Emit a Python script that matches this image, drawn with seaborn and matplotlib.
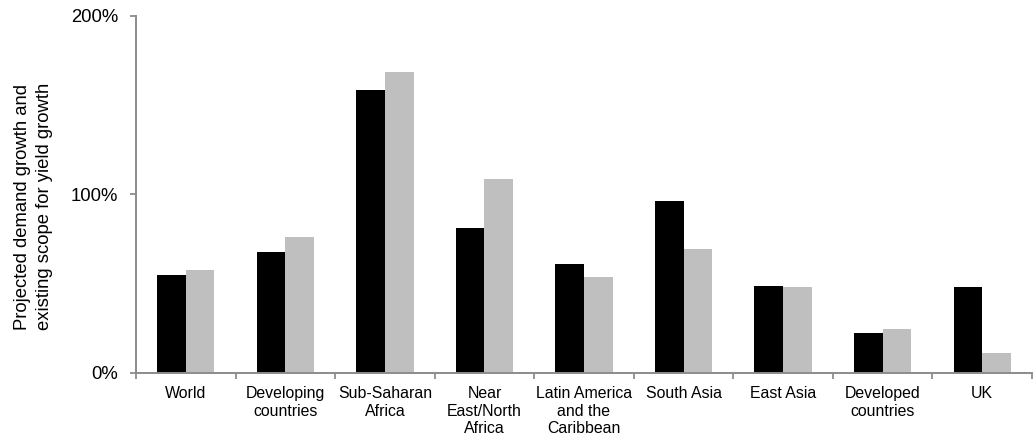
"""Projected demand growth vs existing scope for yield growth"""

import numpy as np
import pandas as pd
import matplotlib

matplotlib.use("Agg")
import matplotlib.pyplot as plt
import seaborn as sns
from matplotlib.ticker import FixedLocator, PercentFormatter

regions = [
    "World",
    "Developing\ncountries",
    "Sub-Saharan\nAfrica",
    "Near\nEast/North\nAfrica",
    "Latin America\nand the\nCaribbean",
    "South Asia",
    "East Asia",
    "Developed\ncountries",
    "UK",
]
demand_growth = [54.6, 67.3, 158.3, 81.1, 61.1, 96.1, 48.6, 22.0, 47.7]
yield_scope = [57.2, 75.7, 168.4, 108.4, 53.4, 69.5, 47.7, 24.3, 11.0]
series_names = ["Projected demand growth", "Existing scope for yield growth"]

df = pd.DataFrame({
    "region": regions * 2,
    "value": demand_growth + yield_scope,
    "series": [series_names[0]] * len(regions) + [series_names[1]] * len(regions),
})

sns.set_style("white")
plt.rcParams["font.family"] = ["Liberation Sans", "DejaVu Sans"]
plt.rcParams["text.color"] = "black"
plt.rcParams["xtick.color"] = "black"
plt.rcParams["ytick.color"] = "black"
plt.rcParams["axes.labelcolor"] = "black"

fig = plt.figure(figsize=(10.35, 4.41), dpi=100)
ax = fig.add_axes([0.1314, 0.1553, 0.8657, 0.8091])

sns.barplot(
    data=df, x="region", y="value", hue="series",
    palette=["#000000", "#BFBFBF"], saturation=1,
    width=0.576, gap=0, legend=False, linewidth=0, ax=ax,
)

axis_grey = "#8C8C8C"
ax.set_xlim(-0.5, len(regions) - 0.5)
ax.set_ylim(0, 200)
ax.set_yticks([0, 100, 200])
ax.yaxis.set_major_formatter(PercentFormatter(decimals=0))
ax.tick_params(axis="y", left=True, labelsize=13.3, length=4, width=1.3,
               color=axis_grey, labelcolor="black", pad=9)

# category labels at centres, tick marks at boundaries (Excel style)
ax.tick_params(axis="x", which="major", bottom=True, length=0, labelsize=11.4,
               labelcolor="black", pad=10)
ax.xaxis.set_minor_locator(FixedLocator(np.arange(-0.5, len(regions) + 0.5, 1)))
ax.tick_params(axis="x", which="minor", bottom=True, length=4, width=1.3, color=axis_grey)
for lbl in ax.get_xticklabels():
    lbl.set_linespacing(1.2)

ax.set_xlabel("")
ax.set_ylabel("Projected demand growth and\nexisting scope for yield growth",
              fontsize=13.3, linespacing=1.35)
ax.yaxis.set_label_coords(-0.093, 0.465)

for side in ["top", "right"]:
    ax.spines[side].set_visible(False)
for side in ["left", "bottom"]:
    ax.spines[side].set_color(axis_grey)
    ax.spines[side].set_linewidth(1.4)

plt.savefig("out.png", dpi=100)
plt.close()
